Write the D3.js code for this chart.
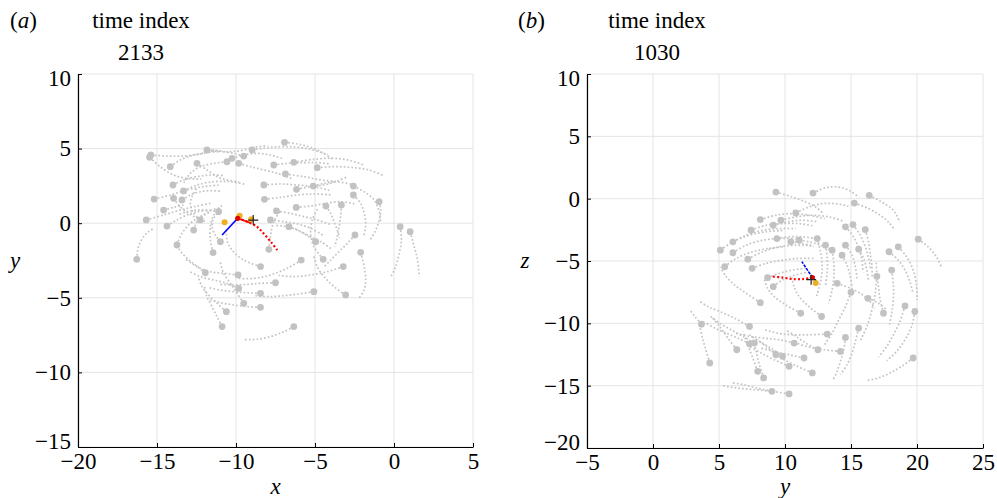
<!DOCTYPE html>
<html><head><meta charset="utf-8">
<script src="https://cdn.jsdelivr.net/npm/d3@7"></script>
<style>body{margin:0;background:#fff}svg{display:block}</style>
</head><body><svg id="c" width="997" height="498"></svg>
<script>
// ---------- data ----------
const xTicksA=[-20,-15,-10,-5,0,5];
const yTicksA=[-15,-10,-5,0,5,10];
const xTicksB=[-5,0,5,10,15,20,25];
const yTicksB=[-20,-15,-10,-5,0,5,10];
const timeA="2133", timeB="1030";
// each track: head point first, then the dotted tail
const tracksA=[
[[-15.39,4.57],[-14.37,4.50],[-13.32,4.50],[-12.36,4.62],[-11.4,4.85]],
[[-15.47,4.42],[-14.80,3.79],[-13.95,3.23],[-13.10,3.01],[-12.2,2.95]],
[[-14.16,3.79],[-13.53,4.24],[-12.68,4.57],[-11.84,4.73],[-11.0,4.8]],
[[-11.84,4.91],[-10.78,4.79],[-9.72,4.86],[-8.87,5.08],[-8.0,5.2]],
[[-6.93,5.42],[-6.12,5.31],[-5.28,5.08],[-4.54,4.73],[-3.9,4.3]],
[[-8.98,4.91],[-7.82,5.08],[-6.55,5.13],[-5.28,4.95],[-4.2,4.6]],
[[-6.34,4.08],[-5.07,4.28],[-3.80,4.35],[-2.74,4.19],[-1.9,3.9]],
[[-4.86,3.72],[-3.80,3.79],[-2.74,3.74],[-1.58,3.57],[-0.7,3.2]],
[[-6.87,3.30],[-5.70,3.12],[-4.64,2.90],[-3.59,2.78],[-2.6,2.6]],
[[-7.61,3.90],[-6.76,4.01],[-5.70,4.06],[-4.86,4.06],[-4.0,3.95]],
[[-8.24,2.56],[-7.18,2.63],[-6.12,2.56],[-5.07,2.45],[-4.1,2.2]],
[[-6.17,2.27],[-5.28,2.45],[-4.43,2.56],[-3.69,2.78],[-3.0,3.1]],
[[-5.11,2.49],[-4.43,2.67],[-3.80,2.78]],
[[-10.57,4.12],[-11.41,4.01],[-12.26,3.79],[-12.89,3.34],[-13.3,2.7]],
[[-10.25,4.35],[-9.51,4.57],[-8.66,4.68],[-7.82,4.57],[-7.0,4.3]],
[[-9.83,4.01],[-9.09,3.79],[-8.24,3.57],[-7.39,3.34],[-6.5,3.0]],
[[-9.51,4.50],[-10.14,4.68],[-10.78,4.79],[-11.41,4.91],[-12.0,4.9]],
[[-12.47,4.01],[-11.84,3.57],[-11.20,3.12],[-10.57,2.90],[-9.8,2.75]],
[[-13.99,2.56],[-13.32,2.90],[-12.47,3.12],[-11.62,3.23],[-10.8,3.2]],
[[-13.32,2.16],[-12.47,2.56],[-11.41,2.78],[-10.35,2.78],[-9.4,2.6]],
[[-15.18,1.62],[-14.16,1.89],[-13.10,2.23],[-12.05,2.45],[-11.1,2.55]],
[[-15.68,0.22],[-14.58,0.55],[-13.53,0.88],[-12.47,1.15],[-11.5,1.35]],
[[-14.37,-0.19],[-13.74,0.22],[-13.10,0.55],[-12.47,0.77],[-11.8,0.85]],
[[-16.28,-2.42],[-16.17,-1.57],[-15.85,-0.90],[-15.54,-0.57],[-15.2,-0.35]],
[[-13.74,-1.46],[-13.42,-0.68],[-12.89,-0.01],[-12.26,0.44],[-11.6,0.75]],
[[-11.45,-1.97],[-11.62,-1.13],[-11.62,-0.23],[-11.41,0.55],[-10.9,1.2]],
[[-8.45,-2.91],[-9.51,-2.47],[-10.25,-1.80],[-10.57,-1.13],[-10.6,-0.4]],
[[-7.92,-1.75],[-7.82,-0.90],[-7.71,-0.23],[-7.50,0.33],[-7.2,0.8]],
[[-5.87,-2.47],[-6.76,-3.02],[-7.82,-3.47],[-8.87,-3.70],[-9.9,-3.7]],
[[-4.48,-2.42],[-5.07,-1.57],[-5.28,-0.68],[-5.17,0.22],[-4.8,1.0]],
[[-3.21,-2.91],[-4.22,-3.25],[-5.28,-3.47],[-6.34,-3.58],[-7.3,-3.5]],
[[-3.06,-4.81],[-3.80,-4.25],[-4.43,-3.58],[-4.86,-2.91],[-5.1,-2.1]],
[[-2.11,-1.95],[-1.89,-2.91],[-1.79,-3.81],[-1.89,-4.48],[-2.2,-5.0]],
[[-2.57,2.49],[-1.89,2.11],[-1.26,1.56],[-0.94,0.77],[-0.85,0.0]],
[[-2.57,1.89],[-2.11,1.33],[-1.89,0.66],[-1.79,-0.01],[-1.9,-0.8]],
[[-0.94,1.44],[-0.84,0.88],[-0.94,0.22],[-1.15,-0.46],[-1.5,-1.1]],
[[0.39,-0.23],[0.47,-1.13],[0.33,-2.02],[0.11,-2.91],[-0.2,-3.6]],
[[1.02,-0.57],[1.28,-1.57],[1.49,-2.47],[1.60,-3.58]],
[[-4.31,1.15],[-4.01,0.66],[-3.80,0.10],[-3.59,-0.46],[-3.45,-1.0]],
[[-3.33,1.22],[-3.38,0.44],[-3.48,-0.23],[-3.59,-0.90],[-3.75,-1.6]],
[[-2.47,-0.79],[-2.95,-1.35],[-3.48,-1.91],[-4.01,-2.47],[-4.5,-3.0]],
[[-6.19,1.06],[-5.28,1.15],[-4.33,1.33],[-3.38,1.44],[-2.5,1.3]],
[[-7.44,0.82],[-6.55,0.66],[-5.70,0.44],[-4.86,0.22],[-4.0,-0.1]],
[[-8.20,1.60],[-7.18,1.73],[-6.12,1.89],[-5.07,1.96],[-4.0,1.9]],
[[-4.96,-1.24],[-5.70,-0.68],[-6.34,-0.34],[-6.97,-0.19],[-7.6,-0.15]],
[[-6.65,-0.23],[-5.91,-0.57],[-5.28,-0.90],[-4.64,-1.24],[-4.0,-1.7]],
[[-7.82,0.22],[-6.97,0.10],[-6.12,-0.05],[-5.28,-0.34],[-4.5,-0.8]],
[[-9.87,-3.47],[-10.78,-3.36],[-11.62,-3.25],[-12.47,-2.91],[-13.2,-2.4]],
[[-7.50,-3.99],[-8.45,-4.03],[-9.30,-4.10],[-10.14,-4.14],[-11.0,-4.1]],
[[-8.45,-4.70],[-9.30,-4.66],[-10.14,-4.59],[-10.99,-4.48],[-11.8,-4.3]],
[[-5.07,-4.59],[-6.12,-4.75],[-7.18,-4.88],[-8.03,-4.92],[-8.9,-4.85]],
[[-9.51,-5.37],[-9.93,-4.70],[-10.35,-4.03],[-10.78,-3.36],[-11.0,-2.6]],
[[-8.45,-5.64],[-9.30,-5.59],[-10.14,-5.48],[-10.99,-5.33],[-11.8,-5.1]],
[[-10.61,-5.93],[-11.20,-5.37],[-11.73,-4.81],[-12.15,-4.25],[-12.4,-3.6]],
[[-10.88,-6.93],[-11.20,-6.27],[-11.52,-5.59],[-11.84,-4.92],[-12.0,-4.2]],
[[-6.34,-6.93],[-6.97,-7.27],[-7.82,-7.60],[-8.66,-7.78],[-9.5,-7.8]],
[[-9.83,-4.37],[-10.57,-4.03],[-11.41,-3.81],[-12.26,-3.58],[-13.0,-3.2]],
[[-11.94,-3.32],[-12.58,-2.80],[-13.21,-2.24],[-13.63,-1.68],[-13.8,-1.1]],
[[-10.99,-1.24],[-11.31,-0.79],[-11.52,-0.23],[-11.41,0.33],[-11.0,0.9]],
[[-12.68,-0.46],[-12.47,0.10],[-12.05,0.55],[-11.52,0.88],[-10.9,1.05]],
[[-11.10,0.77],[-11.84,0.88],[-12.47,0.88],[-13.10,0.77],[-13.7,0.55]],
[[-12.26,0.22],[-12.68,0.66],[-12.89,1.22],[-12.79,1.78],[-12.5,2.3]],
[[-13.42,1.56],[-12.89,1.89],[-12.26,2.11],[-11.62,2.18],[-11.0,2.15]],
[[-13.95,1.67],[-13.53,1.10],[-13.00,0.66],[-12.47,0.33],[-11.9,0.1]],
[[-14.58,0.88],[-13.95,1.06],[-13.32,1.22]]
];
const redA=[[-9.89,0.33],[-9.09,0.02],[-8.60,-0.30],[-8.20,-0.75],[-7.75,-1.30],[-7.39,-1.80]];
const blueA=[[-9.89,0.33],[-10.88,-0.79]];
const orangeA=[[-10.72,0.06],[-9.77,0.50],[-9.04,0.26]];
const plusA=[[-8.91,0.21]];

const tracksB=[
[[9.31,0.53],[10.56,0.13],[11.57,-0.27],[12.32,-0.67],[12.9,-1.2]],
[[12.12,0.45],[13.07,0.88],[14.07,0.93],[14.95,0.61],[15.6,0.1]],
[[16.38,0.27],[17.33,-0.27],[18.08,-0.80],[18.46,-1.33],[18.7,-1.9]],
[[15.25,-0.35],[16.33,-0.80],[17.21,-1.33],[17.83,-1.86],[18.3,-2.5]],
[[10.82,-1.14],[11.82,-0.67],[12.82,-0.40],[13.82,-0.40],[14.8,-0.6]],
[[8.13,-1.68],[9.31,-1.33],[10.56,-1.20],[11.82,-1.33],[13.0,-1.6]],
[[9.69,-1.73],[10.82,-1.46],[12.07,-1.33],[13.32,-1.46],[14.4,-1.8]],
[[7.43,-2.53],[8.56,-2.13],[9.81,-2.00],[11.07,-2.00],[12.2,-2.2]],
[[9.11,-2.13],[10.19,-1.86],[11.32,-1.73],[12.44,-1.86]],
[[6.05,-3.46],[7.06,-2.93],[8.31,-2.53],[9.56,-2.40],[10.8,-2.4]],
[[5.10,-4.13],[6.05,-3.46],[7.31,-2.93],[8.56,-2.66],[9.8,-2.55]],
[[6.05,-4.34],[7.06,-3.73],[8.31,-3.33],[9.56,-3.20],[10.8,-3.2]],
[[7.18,-4.85],[8.31,-4.26],[9.56,-3.86],[10.82,-3.73],[12.0,-3.75]],
[[5.43,-5.46],[6.30,-4.79],[7.56,-4.26],[8.81,-3.99],[10.0,-3.85]],
[[7.51,-5.59],[8.56,-5.19],[9.81,-4.93],[11.07,-4.79],[12.3,-4.8]],
[[8.68,-6.34],[9.56,-5.99],[10.56,-5.73],[11.57,-5.59]],
[[9.11,-7.06],[9.81,-6.52],[10.82,-6.12],[11.82,-5.86]],
[[8.13,-8.34],[7.06,-7.59],[6.18,-6.92],[5.55,-6.26],[5.1,-5.5]],
[[11.19,-9.19],[10.06,-8.52],[9.19,-7.86],[8.68,-7.19],[8.4,-6.4]],
[[12.77,-9.45],[11.82,-8.66],[11.07,-7.86],[10.69,-7.06],[10.5,-6.2]],
[[13.95,-6.79],[14.95,-7.19],[15.70,-7.59],[16.33,-8.12],[16.8,-8.8]],
[[16.28,-7.99],[17.08,-8.39],[17.71,-8.92]],
[[17.46,-9.19],[17.21,-8.12],[17.08,-7.06],[16.96,-5.99],[16.9,-5.0]],
[[19.09,-8.60],[18.71,-9.85],[18.21,-10.92],[17.71,-11.85],[17.1,-12.7]],
[[19.84,-9.05],[19.59,-10.25],[19.09,-11.32],[18.46,-12.25],[17.7,-13.0]],
[[18.08,-5.73],[18.21,-6.92],[18.21,-8.12],[18.08,-9.19],[17.9,-10.2]],
[[17.88,-4.26],[18.58,-4.93],[19.09,-5.73],[19.46,-6.66],[19.7,-7.6]],
[[18.58,-3.86],[19.21,-4.66],[19.71,-5.73],[19.96,-6.92],[20.0,-8.1]],
[[20.09,-3.25],[20.84,-3.86],[21.47,-4.66],[21.84,-5.46]],
[[19.71,-12.78],[18.84,-13.45],[17.96,-13.98],[17.08,-14.38],[16.1,-14.6]],
[[14.58,-11.13],[14.45,-12.12],[14.20,-13.05],[13.95,-13.85],[13.6,-14.6]],
[[13.20,-10.86],[11.82,-10.92],[10.56,-10.92],[9.44,-10.79],[8.4,-10.5]],
[[14.20,-12.25],[12.95,-12.12],[11.82,-11.90],[10.82,-11.58]],
[[15.58,-10.39],[15.33,-11.45],[15.08,-12.38],[14.70,-13.32],[14.2,-14.1]],
[[12.49,-12.12],[11.57,-11.58],[10.82,-11.05],[10.06,-10.52]],
[[10.69,-11.58],[9.56,-11.32],[8.43,-11.19],[7.31,-11.05],[6.3,-10.8]],
[[11.44,-12.78],[10.31,-12.52],[9.19,-12.25],[8.18,-11.99]],
[[10.31,-13.45],[9.19,-12.92],[8.18,-12.38],[7.31,-11.85]],
[[12.07,-13.98],[10.94,-13.45],[9.94,-12.92],[9.19,-12.38]],
[[10.31,-15.66],[8.94,-15.45],[7.56,-15.31],[6.30,-15.18],[5.2,-15.0]],
[[9.01,-15.45],[7.81,-15.18],[6.81,-14.91],[6.05,-14.78]],
[[8.38,-14.38],[8.06,-13.32],[7.81,-12.25],[7.56,-11.19]],
[[7.93,-13.85],[7.56,-12.78],[7.18,-11.72],[6.81,-10.65]],
[[7.68,-11.58],[6.81,-11.05],[5.93,-10.52],[5.05,-9.99],[4.3,-9.4]],
[[7.31,-11.64],[6.43,-11.19],[5.55,-10.79],[4.68,-10.39],[3.9,-9.9]],
[[6.35,-12.12],[5.68,-11.19],[5.05,-10.25],[4.42,-9.45]],
[[4.30,-13.18],[4.00,-12.12],[3.75,-11.19],[3.55,-10.25]],
[[3.67,-10.07],[3.17,-9.45],[2.80,-8.92]],
[[7.31,-10.25],[6.18,-9.59],[5.05,-9.05],[4.17,-8.66],[3.5,-8.2]],
[[9.81,-12.65],[8.94,-11.99],[8.06,-11.45],[7.31,-10.92]],
[[9.31,-12.52],[8.56,-11.85],[7.93,-11.32]],
[[14.58,-2.26],[15.20,-3.06],[15.58,-3.99],[15.83,-4.93],[15.9,-5.9]],
[[15.15,-2.08],[15.70,-2.93],[16.08,-3.86],[16.33,-4.79],[16.5,-5.7]],
[[16.08,-2.48],[16.33,-3.46],[16.45,-4.39],[16.58,-5.33],[16.6,-6.3]],
[[14.58,-3.73],[15.08,-4.53],[15.33,-5.46],[15.45,-6.39]],
[[15.58,-4.05],[15.95,-4.79],[16.20,-5.73],[16.33,-6.66]],
[[14.32,-4.53],[14.70,-5.33],[14.95,-6.26],[15.08,-7.19]],
[[13.57,-4.13],[13.70,-5.19],[13.70,-6.26],[13.57,-7.32],[13.3,-8.4]],
[[13.07,-3.73],[13.20,-4.79],[13.20,-5.86],[13.07,-6.92]],
[[12.44,-3.20],[12.69,-4.26],[12.82,-5.46],[12.69,-6.66],[12.4,-7.8]],
[[11.07,-3.33],[11.82,-3.46],[12.69,-3.73],[13.45,-4.13]],
[[10.44,-3.46],[11.32,-3.59],[12.19,-3.86]],
[[9.39,-3.20],[10.31,-3.06],[11.32,-3.06],[12.32,-3.20]],
[[16.96,-6.23],[16.83,-7.59],[16.58,-8.92],[16.20,-10.25],[15.7,-11.4]],
[[15.00,-7.51],[14.58,-8.66],[14.07,-9.72],[13.57,-10.79],[13.0,-11.7]]
];
const redB=[[12.08,-6.33],[11.33,-6.45],[10.57,-6.45],[9.82,-6.33],[9.07,-6.25]];
const blueB=[[12.08,-6.33],[11.28,-5.05]];
const orangeB=[[12.33,-6.77]];
const plusB=[[11.98,-6.5]];

// ---------- drawing ----------
const FONT='"Liberation Serif","DejaVu Serif","Times New Roman",serif';
const svg=d3.select("#c").style("font-family",FONT);
const FS=23;

function panel(cfg){
  const x=d3.scaleLinear().domain(cfg.xd).range(cfg.xr);
  const y=d3.scaleLinear().domain(cfg.yd).range(cfg.yr);
  const g=svg.append("g");
  g.selectAll(".gx").data(cfg.xt).join("line")
    .attr("x1",d=>x(d)).attr("x2",d=>x(d)).attr("y1",cfg.yr[0]).attr("y2",cfg.yr[1])
    .attr("stroke","#e4e4e4").attr("stroke-width",1);
  g.selectAll(".gy").data(cfg.yt).join("line")
    .attr("y1",d=>y(d)).attr("y2",d=>y(d)).attr("x1",cfg.xr[0]).attr("x2",cfg.xr[1])
    .attr("stroke","#e4e4e4").attr("stroke-width",1);
  const line=d3.line().x(d=>x(d[0])).y(d=>y(d[1])).curve(d3.curveCatmullRom.alpha(0.5));
  const straight=d3.line().x(d=>x(d[0])).y(d=>y(d[1]));
  g.selectAll(".trk").data(cfg.tracks).join("path")
    .attr("d",line).attr("fill","none").attr("stroke","#c4c4c4")
    .attr("stroke-width",1.7).attr("stroke-dasharray","1.7,2.1");
  g.selectAll(".hd").data(cfg.tracks).join("circle")
    .attr("cx",d=>x(d[0][0])).attr("cy",d=>y(d[0][1])).attr("r",3.4).attr("fill","#c2c2c2");
  g.append("path").datum(cfg.red).attr("d",line).attr("fill","none")
    .attr("stroke","#ff0000").attr("stroke-width",2.2).attr("stroke-dasharray","2,2.2");
  if(cfg.redSolid) g.append("path").datum(cfg.red.slice(0,2)).attr("d",straight)
    .attr("fill","none").attr("stroke","#ff0000").attr("stroke-width",1.8);
  g.append("path").datum(cfg.blue).attr("d",straight)
    .attr("fill","none").attr("stroke","#0000ff").attr("stroke-width",1.6)
    .attr("stroke-dasharray",cfg.blueDash||null);
  g.selectAll(".or").data(cfg.orange).join("circle")
    .attr("cx",d=>x(d[0])).attr("cy",d=>y(d[1])).attr("r",3).attr("fill","#edb120");
  g.append("circle").attr("cx",x(cfg.red[0][0])).attr("cy",y(cfg.red[0][1])).attr("r",2.6).attr("fill","#e00000");
  g.selectAll(".pl").data(cfg.plus).join("path")
    .attr("d",d=>{const px=x(d[0]),py=y(d[1]);return `M${px-5},${py}H${px+5}M${px},${py-5}V${py+5}`;})
    .attr("stroke","#222").attr("stroke-width",1.2);
  const ax=g.append("g").attr("transform",`translate(0,${cfg.yr[0]})`)
    .call(d3.axisBottom(x).tickValues(cfg.xt).tickSizeInner(-4).tickSizeOuter(0).tickPadding(6));
  const ay=g.append("g").attr("transform",`translate(${cfg.xr[0]},0)`)
    .call(d3.axisLeft(y).tickValues(cfg.yt).tickSizeInner(-4).tickSizeOuter(0).tickPadding(7));
  [ax,ay].forEach(a=>{
    a.attr("font-family",null).attr("font-size",null);
    a.selectAll("text").style("font-family",FONT).style("font-size",FS+"px").attr("fill","#000");
    a.select(".domain").attr("stroke","#000").attr("stroke-width",1.2);
    a.selectAll(".tick line").attr("stroke","#000");
  });
  const yl=ay.selectAll(".tick text");
  yl.filter(d=>d===cfg.yt[0]).attr("dy","0.05em");
  yl.filter(d=>d===cfg.yt[cfg.yt.length-1]).attr("dy","0.5em");
  const T=(sel)=>sel.style("font-family",FONT).style("font-size",FS+"px");
  T(g.append("text")).attr("x",(cfg.xr[0]+cfg.xr[1])/2).attr("y",494).attr("text-anchor","middle")
    .style("font-style","italic").text(cfg.xl);
  T(g.append("text")).attr("x",cfg.ylx).attr("y",268).attr("text-anchor","middle")
    .style("font-style","italic").text(cfg.yl);
  const t=T(g.append("text")).attr("x",cfg.px).attr("y",28);
  t.append("tspan").text("(");
  t.append("tspan").style("font-style","italic").text(cfg.tag);
  t.append("tspan").text(")");
  T(g.append("text")).attr("x",cfg.tx).attr("y",28).attr("text-anchor","middle").text("time index");
  T(g.append("text")).attr("x",cfg.tx).attr("y",60).attr("text-anchor","middle").text(cfg.time);
}

panel({xd:[-20,5],yd:[-15,10],xr:[78,473],yr:[447,74],xt:xTicksA,yt:yTicksA,
  tracks:tracksA,red:redA,redSolid:true,blue:blueA,orange:orangeA,plus:plusA,
  xl:"x",yl:"y",ylx:15,px:10,tag:"a",tx:141,time:timeA});
panel({xd:[-5,25],yd:[-20,10],xr:[587,983],yr:[448,74],xt:xTicksB,yt:yTicksB,
  tracks:tracksB,red:redB,redSolid:false,blue:blueB,blueDash:"3,1.2",orange:orangeB,plus:plusB,
  xl:"y",yl:"z",ylx:525,px:518,tag:"b",tx:657,time:timeB});
</script></body></html>
